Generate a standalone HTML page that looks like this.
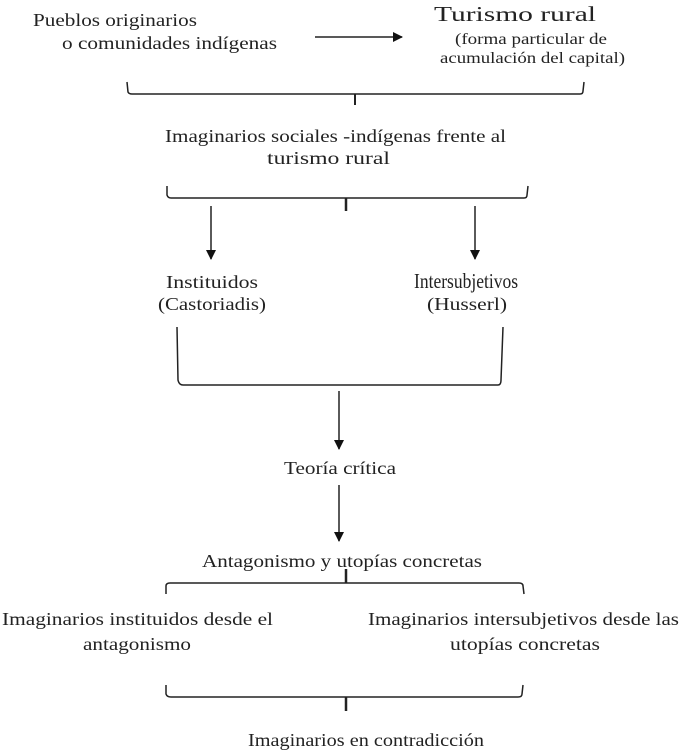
<!DOCTYPE html>
<html><head><meta charset="utf-8"><style>
html,body{margin:0;padding:0;background:#fff;}
svg{display:block;}
text{font-family:"Liberation Serif",serif;font-size:18px;fill:#222;}
</style></head><body>
<svg width="680" height="750" viewBox="0 0 680 750" xmlns="http://www.w3.org/2000/svg">
<defs><marker id="a" markerWidth="10" markerHeight="10" refX="9" refY="5" orient="auto" markerUnits="userSpaceOnUse"><path d="M0,0 L10,5 L0,10 z" fill="#111"/></marker></defs>
<g stroke="#222" stroke-width="1.5" fill="none">
<line x1="315" y1="37" x2="402" y2="37" marker-end="url(#a)"/>
<path d="M127,82 L128,92 Q129,94 132,94 L580,94 Q583,94 583,91 L584,82"/>
<line x1="355" y1="94" x2="355" y2="105" stroke-width="2"/>
<path d="M167,186 L167,195 Q168,198 171,198 L524,198 Q527,198 527,195 L528,186"/>
<line x1="346" y1="198" x2="346" y2="211" stroke-width="2.5"/>
<line x1="211" y1="206" x2="211" y2="259" marker-end="url(#a)"/>
<line x1="475" y1="206" x2="475" y2="259" marker-end="url(#a)"/>
<path d="M177,327 L178,380 Q179,385 183,385 L498,385 Q501,385 501,380 L503,327"/>
<line x1="339" y1="391" x2="339" y2="449" marker-end="url(#a)"/>
<line x1="339" y1="485" x2="339" y2="541" marker-end="url(#a)"/>
<line x1="346" y1="569" x2="346" y2="583" stroke-width="2.5"/>
<path d="M166,594 L166,586 Q166,583 170,583 L519,583 Q523,583 523,586 L524,594"/>
<path d="M166,685 L166,694 Q167,697 171,697 L518,697 Q522,697 522,694 L523,685"/>
<line x1="346" y1="697" x2="346" y2="711" stroke-width="2.5"/>
</g>
<text x="33" y="26" textLength="164" lengthAdjust="spacingAndGlyphs">Pueblos originarios</text>
<text x="62" y="49" textLength="215" lengthAdjust="spacingAndGlyphs">o comunidades indígenas</text>
<text x="434" y="21" style="font-size:21px" textLength="162" lengthAdjust="spacingAndGlyphs">Turismo rural</text>
<text x="455" y="44" style="font-size:16px" textLength="152" lengthAdjust="spacingAndGlyphs">(forma particular de</text>
<text x="440" y="63" style="font-size:16px" textLength="185" lengthAdjust="spacingAndGlyphs">acumulación del capital)</text>
<text x="165" y="142" textLength="341" lengthAdjust="spacingAndGlyphs">Imaginarios sociales -indígenas frente al</text>
<text x="267" y="164" textLength="123" lengthAdjust="spacingAndGlyphs">turismo rural</text>
<text x="166" y="288" textLength="92" lengthAdjust="spacingAndGlyphs">Instituidos</text>
<text x="158" y="310" textLength="108" lengthAdjust="spacingAndGlyphs">(Castoriadis)</text>
<text x="414" y="288" style="font-size:21px" textLength="104" lengthAdjust="spacingAndGlyphs">Intersubjetivos</text>
<text x="427" y="310" textLength="80" lengthAdjust="spacingAndGlyphs">(Husserl)</text>
<text x="340" y="474" text-anchor="middle" textLength="112" lengthAdjust="spacingAndGlyphs">Teoría crítica</text>
<text x="342" y="567" text-anchor="middle" textLength="280" lengthAdjust="spacingAndGlyphs">Antagonismo y utopías concretas</text>
<text x="2" y="625" textLength="271" lengthAdjust="spacingAndGlyphs">Imaginarios instituidos desde el</text>
<text x="137" y="650" text-anchor="middle" textLength="108" lengthAdjust="spacingAndGlyphs">antagonismo</text>
<text x="368" y="625" textLength="311" lengthAdjust="spacingAndGlyphs">Imaginarios intersubjetivos desde las</text>
<text x="525" y="650" text-anchor="middle" textLength="150" lengthAdjust="spacingAndGlyphs">utopías concretas</text>
<text x="248" y="746" textLength="236" lengthAdjust="spacingAndGlyphs">Imaginarios en contradicción</text>
</svg>
</body></html>
